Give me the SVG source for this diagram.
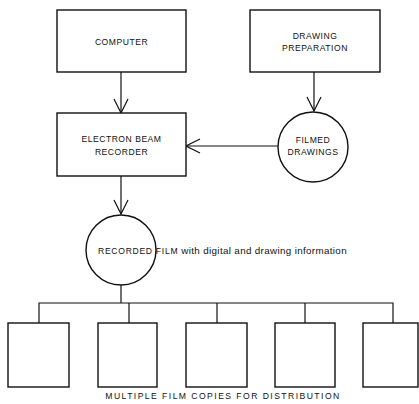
<svg xmlns="http://www.w3.org/2000/svg" width="419" height="404" viewBox="0 0 419 404">
  <style>
    .box { fill: #fff; stroke: #111; stroke-width: 1.4; }
    .ring { fill: none; stroke: #111; stroke-width: 1.4; }
    .line { fill: none; stroke: #111; stroke-width: 1.2; }
    .lbl { font-family: "Liberation Sans", Arial, sans-serif; font-size: 8.6px; fill: #111; text-anchor: middle; letter-spacing: 0.5px; }
    .cap { font-family: "Liberation Sans", Arial, sans-serif; font-size: 8.6px; fill: #111; letter-spacing: 0.7px; }
    .note { font-size: 9.8px; letter-spacing: 0.35px; }
    .foot { font-family: "Liberation Sans", Arial, sans-serif; font-size: 8.6px; fill: #111; text-anchor: middle; letter-spacing: 1.45px; }
  </style>
  <defs>
    <marker id="vee" viewBox="0 0 16 16" refX="15" refY="8" markerWidth="16" markerHeight="16" markerUnits="userSpaceOnUse" orient="auto">
      <path d="M1,1 L15,8 L1,15" fill="none" stroke="#111" stroke-width="1.2"/>
    </marker>
  </defs>
  <rect width="419" height="404" fill="#fff"/>

  <g id="connectors">
    <line class="line" x1="121" y1="72" x2="121" y2="113" marker-end="url(#vee)"/>
    <line class="line" x1="314" y1="72" x2="314" y2="111" marker-end="url(#vee)"/>
    <line class="line" x1="278" y1="146" x2="186" y2="146" marker-end="url(#vee)"/>
    <line class="line" x1="121" y1="176" x2="121" y2="214" marker-end="url(#vee)"/>
    <line class="line" x1="121" y1="285" x2="121" y2="303"/>
    <polyline class="line" points="39,323 39,303 393,303 393,323"/>
    <line class="line" x1="129" y1="303" x2="129" y2="323"/>
    <line class="line" x1="217" y1="303" x2="217" y2="323"/>
    <line class="line" x1="305" y1="303" x2="305" y2="323"/>
  </g>

  <g id="computer">
    <rect class="box" x="57" y="10" width="129" height="62"/>
    <text class="lbl" x="121.5" y="45">COMPUTER</text>
  </g>

  <g id="drawing-preparation">
    <rect class="box" x="250" y="10" width="130" height="62"/>
    <text class="lbl" x="315" y="39">DRAWING</text>
    <text class="lbl" x="315" y="51">PREPARATION</text>
  </g>

  <g id="electron-beam-recorder">
    <rect class="box" x="57" y="113" width="129" height="63"/>
    <text class="lbl" x="121.5" y="142">ELECTRON BEAM</text>
    <text class="lbl" x="121.5" y="155">RECORDER</text>
  </g>

  <g id="filmed-drawings">
    <circle class="box" cx="313" cy="147" r="35"/>
    <text class="lbl" x="313" y="143">FILMED</text>
    <text class="lbl" x="313" y="155">DRAWINGS</text>
  </g>

  <g id="recorded-film">
    <circle class="ring" cx="121" cy="250" r="35"/>
    <text class="cap" x="98" y="254">RECORDED FILM <tspan class="note">with digital and drawing information</tspan></text>
  </g>

  <g id="copy-1"><rect class="box" x="8" y="323" width="61" height="64"/></g>
  <g id="copy-2"><rect class="box" x="98" y="323" width="59" height="64"/></g>
  <g id="copy-3"><rect class="box" x="186" y="323" width="61" height="64"/></g>
  <g id="copy-4"><rect class="box" x="275" y="323" width="60" height="64"/></g>
  <g id="copy-5"><rect class="box" x="363" y="323" width="55" height="64"/></g>

  <g id="distribution-caption">
    <text class="foot" x="223" y="399">MULTIPLE FILM COPIES FOR DISTRIBUTION</text>
  </g>
</svg>
